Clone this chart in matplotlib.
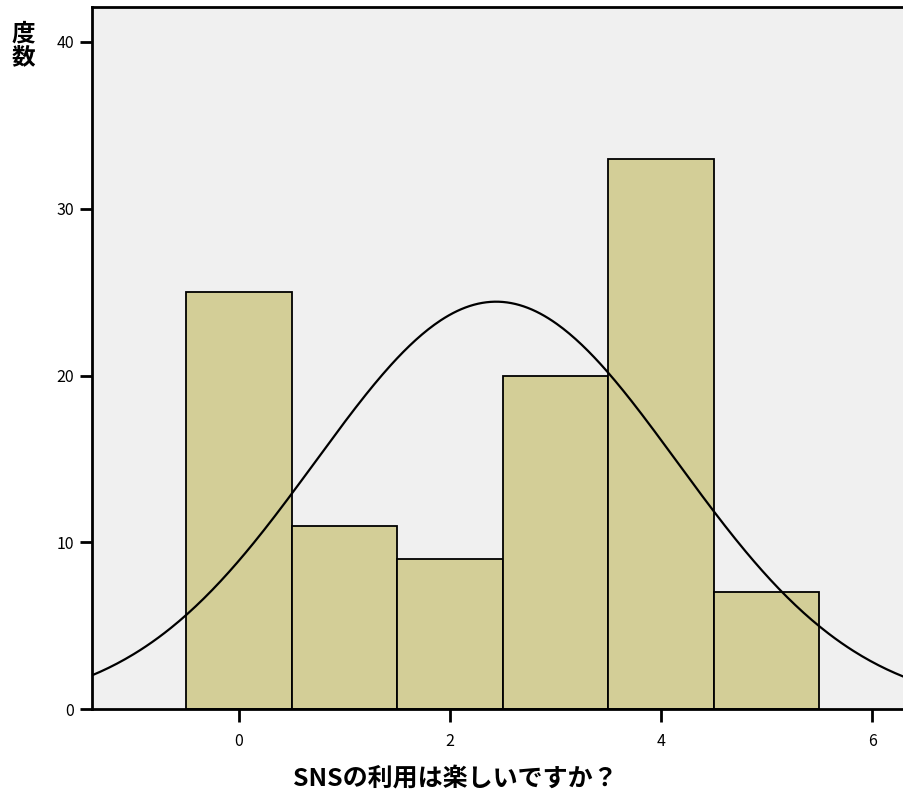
import numpy as np
import matplotlib
matplotlib.use("Agg")
import matplotlib.pyplot as plt

plt.rcParams['font.family'] = ['Noto Sans CJK JP', 'DejaVu Sans']

categories = [0, 1, 2, 3, 4, 5]
counts = [25, 11, 9, 20, 33, 7]
xticks = [0, 2, 4, 6]
yticks = [0, 10, 20, 30, 40]
xlabel = "SNSの利用は楽しいですか？"
ylabel = "度\n数"

W, H = 904, 799
fig = plt.figure(figsize=(W / 100, H / 100), dpi=100)
left, right, top, bottom = 92, 920, 7, 709
ax = fig.add_axes([left / W, 1 - bottom / H, (right - left) / W, (bottom - top) / H])
ax.set_facecolor('#F0F0F0')

px_per_unit = 105.55
x0 = -(238.8 - left) / px_per_unit
x1 = x0 + (right - left) / px_per_unit
ax.set_xlim(x0, x1)
ax.set_ylim(0, 40 * (bottom - top) / (709 - 42))

ax.bar(categories, counts, width=1.0, color='#D3CE97', edgecolor='black', linewidth=1.3, zorder=2)

vals = np.repeat(categories, counts)
mu = vals.mean()
sd = vals.std(ddof=1)
n = len(vals)
xs = np.linspace(x0, x1, 400)
ys = n * 1.0 / (sd * np.sqrt(2 * np.pi)) * np.exp(-0.5 * ((xs - mu) / sd) ** 2)
ax.plot(xs, ys, color='black', linewidth=1.6, zorder=3)

for s in ['left', 'bottom', 'top']:
    ax.spines[s].set_linewidth(2)
ax.spines['right'].set_visible(False)

ax.set_xticks(xticks)
ax.set_yticks(yticks)
ax.tick_params(direction='out', length=9, width=2, labelsize=11.5, pad=8)
ax.tick_params(axis='y', pad=4)

fig.text(455 / W, 1 - 779 / H, xlabel, fontsize=18, fontweight='bold', ha='center', va='center')
fig.text(23 / W, 1 - 45 / H, ylabel, fontsize=17, fontweight='bold', ha='center', va='center', linespacing=1.0)

fig.savefig('out.png', dpi=100)
